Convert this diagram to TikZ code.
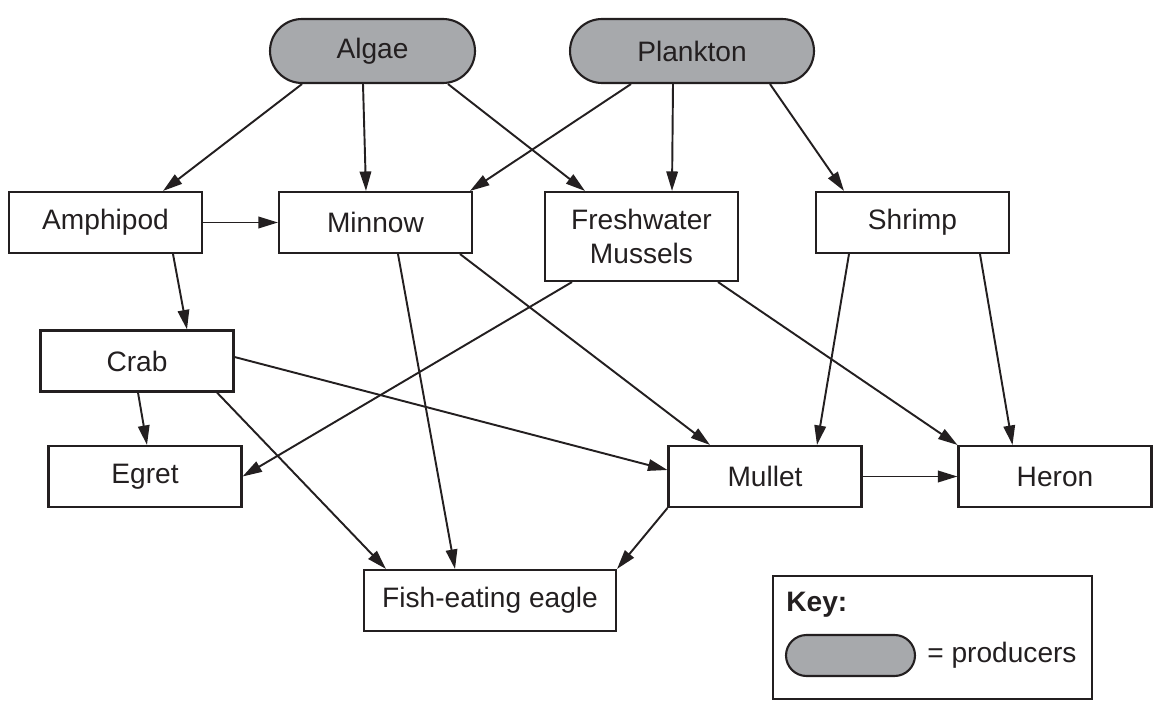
\documentclass[tikz,border=0pt]{standalone}
\usepackage{fontspec}
\setmainfont{Liberation Sans}
\usetikzlibrary{arrows.meta,calc}
\definecolor{ink}{HTML}{231F20}
\definecolor{prodgray}{HTML}{A7A9AC}

\tikzset{
  organism/.style={draw=ink, line width=1.2pt, text=ink, inner sep=0pt,
    minimum width=3.86cm, minimum height=1.22cm, align=center,
    font=\fontsize{16}{19}\selectfont},
  producer/.style={organism, fill=prodgray, rounded corners=0.64cm,
    minimum height=1.28cm},
  eats/.style={draw=ink, line width=1.1pt, -{Triangle[length=3.9mm,width=2.3mm]}}
}

\begin{document}
\begin{tikzpicture}[x=0.02cm, y=-0.02cm]
  \useasboundingbox (0,0) rectangle (1153,709);
  %% producers
  \node[producer, minimum width=4.1cm] (alg) at (372.5,51) {Algae};
  \node[producer, minimum width=4.88cm] (pl) at (692,51) {Plankton};
  %% consumers
  \node[organism] (amph) at (105.5,222.5) {Amphipod};
  \node[organism] (minnow) at (375.5,222.5) {Minnow};
  \node[organism, minimum height=1.78cm] (mussels) at (641.5,236.5) {Freshwater\\Mussels};
  \node[organism] (shrimp) at (912.5,222.5) {Shrimp};
  \node[organism] (crab) at (137,361) {Crab};
  \node[organism] (egret) at (145,476.5) {Egret};
  \node[organism] (mullet) at (765,476.5) {Mullet};
  \node[organism] (heron) at (1055,476.5) {Heron};
  \node[organism, minimum width=5.04cm] (eagle) at (490,600.5) {Fish-eating eagle};
  %% who eats whom
  \draw[eats] ($(alg.south)+(-70.5,0)$) -- ($(amph.north)+(57.5,0)$);
  \draw[eats] ($(alg.south)+(-9.5,0)$) -- ($(minnow.north)+(-9.5,0)$);
  \draw[eats] ($(alg.south)+(75.5,0)$) -- ($(mussels.north)+(-56.5,0)$);
  \draw[eats] ($(pl.south)+(-61,0)$) -- ($(minnow.north)+(94.5,0)$);
  \draw[eats] ($(pl.south)+(-19,0)$) -- ($(mussels.north)+(30.5,0)$);
  \draw[eats] ($(pl.south)+(78,0)$) -- ($(shrimp.north)+(-68.5,0)$);
  \draw[eats] (amph.east) -- (minnow.west);
  \draw[eats] ($(amph.south)+(67.5,0)$) -- ($(crab.north)+(50,0)$);
  \draw[eats] ($(minnow.south)+(22.5,0)$) -- ($(eagle.north)+(-35,0)$);
  \draw[eats] ($(minnow.south)+(84.5,0)$) -- ($(mullet.north)+(-55,0)$);
  \draw[eats] ($(mussels.south)+(-69.5,0)$) -- (egret.east);
  \draw[eats] ($(mussels.south)+(76.5,0)$) -- (heron.north west);
  \draw[eats] ($(shrimp.south)+(-63.5,0)$) -- ($(mullet.north)+(52,0)$);
  \draw[eats] ($(shrimp.south)+(67.5,0)$) -- ($(heron.north)+(-42.5,0)$);
  \draw[eats] ($(crab.south)+(1,0)$) -- ($(egret.north)+(2,0)$);
  \draw[eats] ($(crab.east)+(0,-4)$) -- ($(mullet.west)+(0,-6.5)$);
  \draw[eats] ($(crab.south)+(80,0)$) -- ($(eagle.north)+(-104,0)$);
  \draw[eats] (mullet.east) -- (heron.west);
  \draw[eats] (mullet.south west) -- (eagle.north east);
  %% key
  \node[draw=ink, line width=1.2pt, minimum width=6.38cm, minimum height=2.46cm] (key) at (932.5,637.5) {};
  \node[anchor=west, inner sep=0pt, text=ink, font=\fontsize{16}{19}\selectfont\bfseries] (keytitle) at (786,605) {Key:};
  \node[draw=ink, line width=1.2pt, fill=prodgray, rounded corners=0.41cm,
    minimum width=2.58cm, minimum height=0.82cm] (keypill) at (850.5,655.5) {};
  \node[anchor=west, inner sep=0pt, text=ink, font=\fontsize{16}{19}\selectfont] (keytext) at (927,655.5) {= producers};
\end{tikzpicture}
\end{document}
